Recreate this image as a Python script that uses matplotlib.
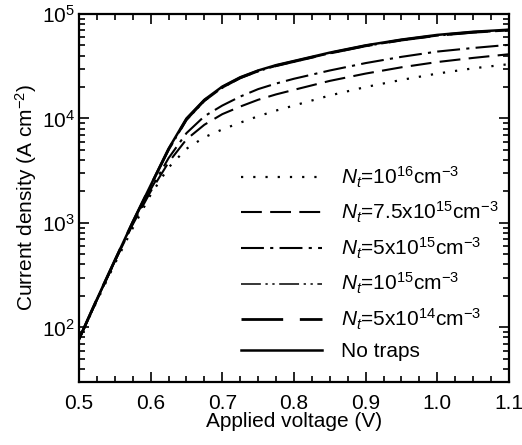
import numpy as np
import matplotlib
matplotlib.use("Agg")
import matplotlib.pyplot as plt
from matplotlib.ticker import LogLocator, MultipleLocator, NullFormatter, FormatStrFormatter

plt.rcParams['font.family'] = ['Liberation Sans', 'DejaVu Sans']
plt.rcParams['mathtext.fontset'] = 'custom'
plt.rcParams['mathtext.rm'] = 'Liberation Sans'
plt.rcParams['mathtext.it'] = 'Liberation Sans:italic'
plt.rcParams['mathtext.default'] = 'regular'

# applied voltage (V)
voltage = [0.50, 0.525, 0.55, 0.575, 0.60, 0.625, 0.65, 0.675, 0.70, 0.725,
           0.75, 0.775, 0.80, 0.85, 0.90, 0.95, 1.00, 1.05, 1.10]

# current density (A cm^-2)
j_nt_1e16 = [77, 178, 407, 891, 1860, 3390, 5130, 6610, 7850, 9120,
             10500, 11900, 13300, 16600, 20000, 23400, 26900, 30200, 33100]
j_nt_75e15 = [77, 182, 427, 966, 2000, 3800, 6310, 8710, 11000, 13000,
              15100, 17000, 18800, 22900, 26900, 30900, 34700, 38000, 41200]
j_nt_5e15 = [77, 184, 432, 989, 2090, 4170, 7240, 10500, 13300, 16200,
             19100, 21600, 24000, 28800, 33900, 38900, 43700, 47300, 50700]
j_nt_1e15 = [77, 185, 434, 1005, 2240, 4950, 9600, 14600, 19600, 24200,
             28200, 31700, 34800, 41800, 49100, 55800, 61800, 66200, 69300]
j_nt_5e14 = [77, 186, 436, 1015, 2270, 5050, 9800, 14900, 19900, 24500,
             28500, 32000, 35100, 42200, 49600, 56300, 62400, 66900, 70000]
j_no_traps = [77, 186, 437, 1020, 2290, 5130, 10000, 15100, 20200, 24800,
              28800, 32400, 35500, 42700, 50100, 56900, 63100, 67600, 70800]

labels = [r"$\mathit{N_t}$=10$^{16}$cm$^{-3}$",
          r"$\mathit{N_t}$=7.5x10$^{15}$cm$^{-3}$",
          r"$\mathit{N_t}$=5x10$^{15}$cm$^{-3}$",
          r"$\mathit{N_t}$=10$^{15}$cm$^{-3}$",
          r"$\mathit{N_t}$=5x10$^{14}$cm$^{-3}$",
          "No traps"]

series = [j_nt_1e16, j_nt_75e15, j_nt_5e15, j_nt_1e15, j_nt_5e14, j_no_traps]
styles = [
    {'linestyle': (0, (1, 4.5)), 'linewidth': 1.6},
    {'linestyle': (0, (10, 4)), 'linewidth': 1.5},
    {'linestyle': (0, (11, 3, 1.5, 3)), 'linewidth': 1.5},
    {'linestyle': (0, (13, 3, 1.5, 3, 1.5, 3)), 'linewidth': 1.1},
    {'linestyle': (0, (15, 6)), 'linewidth': 2.0},
    {'linestyle': '-', 'linewidth': 1.8},
]

fig = plt.figure(figsize=(5.22, 4.45), dpi=100)
ax = fig.add_axes([0.1513, 0.1416, 0.8237, 0.8269])

for y, lab, st in zip(series, labels, styles):
    ax.plot(voltage, y, color='k', label=lab, **st)

ax.set_yscale('log')
ax.set_xlim(0.5, 1.1)
ax.set_ylim(30, 1e5)
ax.xaxis.set_major_locator(MultipleLocator(0.1))
ax.xaxis.set_minor_locator(MultipleLocator(0.025))
ax.xaxis.set_major_formatter(FormatStrFormatter('%.1f'))
ax.yaxis.set_major_locator(LogLocator(base=10, numticks=10))
ax.yaxis.set_minor_locator(LogLocator(base=10, subs=np.arange(2, 10), numticks=20))
ax.yaxis.set_minor_formatter(NullFormatter())

ax.tick_params(which='both', direction='in', top=True, right=True, labelsize=15, width=1.2)
ax.tick_params(which='major', length=7)
ax.tick_params(which='minor', length=4)
ax.tick_params(axis='x', pad=9)
ax.tick_params(axis='y', pad=3)
for s in ax.spines.values():
    s.set_linewidth(1.6)

ax.set_xlabel("Applied voltage (V)", fontsize=15, labelpad=-1)
ax.set_ylabel("Current density (A cm$^{-2}$)", fontsize=15, labelpad=2)

ax.legend(loc='lower left', bbox_to_anchor=(0.333, 0.005), frameon=False, fontsize=15,
          handlelength=3.9, handletextpad=0.9, labelspacing=0.5)

fig.savefig("out.png", dpi=100)
